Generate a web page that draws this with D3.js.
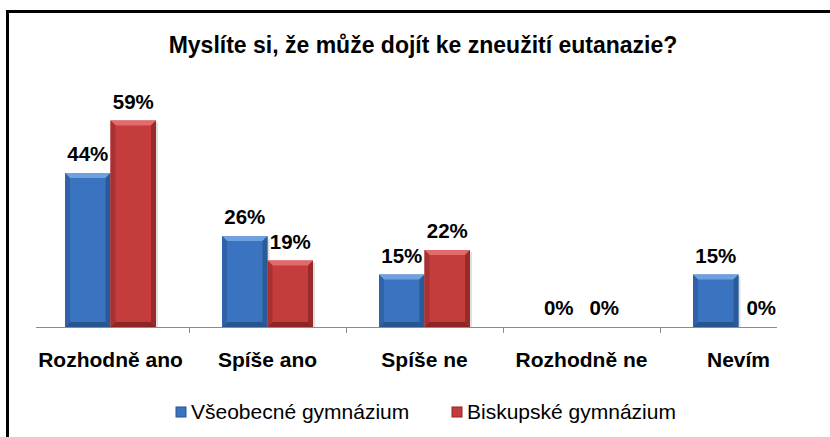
<!DOCTYPE html>
<html>
<head>
<meta charset="utf-8">
<script src="https://cdn.jsdelivr.net/npm/d3@7"></script>
<style>
  body { margin: 0; background: #fff; }
  text { font-family: "Liberation Sans", Arial, sans-serif; }
</style>
</head>
<body>
<svg id="chart" width="830" height="437"></svg>
<script>
var categories = ["Rozhodně ano", "Spíše ano", "Spíše ne", "Rozhodně ne", "Nevím"]
var seriesNames = ["Všeobecné gymnázium", "Biskupské gymnázium"]
var vseobecne = [44, 26, 15, 0, 15]
var biskupske = [59, 19, 22, 0, 0]
var title = "Myslíte si, že může dojít ke zneužití eutanazie?"

var colors = [
    { face: "#3a73bf", light: "#6fa0e0", dark: "#27558f", side: "#2f62a8" },
    { face: "#c53c3c", light: "#e26a6a", dark: "#8c2626", side: "#a83131" }
]

var svg = d3.select("#chart")

// frame
svg.append("rect")
    .attr("x", 7.5).attr("y", 11.5)
    .attr("width", 900).attr("height", 600)
    .attr("fill", "none")
    .attr("stroke", "#000")
    .attr("stroke-width", 3)

svg.append("text")
    .attr("x", 423).attr("y", 53)
    .attr("text-anchor", "middle")
    .attr("font-size", 23)
    .attr("font-weight", "bold")
    .text(title)

var x0 = d3.scaleBand().domain(categories).range([32, 817])
var x1 = d3.scaleBand().domain(d3.range(seriesNames.length)).range([-45.5, 45.5])
var y = d3.scaleLinear().domain([0, 60]).range([327, 117])

var data = [vseobecne, biskupske]

// axis line + ticks between categories
svg.append("line")
    .attr("x1", 36).attr("x2", 777)
    .attr("y1", y(0) + 0.5).attr("y2", y(0) + 0.5)
    .attr("stroke", "#8c8c8c").attr("stroke-width", 1.2)

svg.selectAll(".tick")
    .data(categories.slice(1))
    .enter().append("line")
    .attr("x1", d => x0(d) + 0.5).attr("x2", d => x0(d) + 0.5)
    .attr("y1", y(0)).attr("y2", y(0) + 6)
    .attr("stroke", "#8c8c8c")

function bevelBar(g, bx, by, w, h, c) {
    var b = Math.min(5, h / 2, w / 2)
    g.append("rect").attr("x", bx + w - 1).attr("y", by + 2).attr("width", 3).attr("height", h - 2)
        .attr("fill", "#000").attr("opacity", 0.12)
    g.append("rect").attr("x", bx).attr("y", by).attr("width", w).attr("height", h).attr("fill", c.face)
    if (h <= 0) return
    var x2 = bx + w, y2 = by + h
    g.append("polygon").attr("points", [[bx, by], [x2, by], [x2 - b, by + b], [bx + b, by + b]].join(" "))
        .attr("fill", c.light)
    g.append("polygon").attr("points", [[bx, by], [bx + b, by + b], [bx + b, y2 - b], [bx, y2]].join(" "))
        .attr("fill", c.side)
    g.append("polygon").attr("points", [[x2, by], [x2, y2], [x2 - b, y2 - b], [x2 - b, by + b]].join(" "))
        .attr("fill", c.dark).attr("opacity", 0.8)
    g.append("polygon").attr("points", [[bx, y2], [bx + b, y2 - b], [x2 - b, y2 - b], [x2, y2]].join(" "))
        .attr("fill", c.dark)
}

data.forEach(function(vals, s) {
    var g = svg.append("g")
    vals.forEach(function(v, i) {
        var bx = x0(categories[i]) + x0.bandwidth() / 2 + x1(s)
        if (v > 0) bevelBar(g, bx, y(v), x1.bandwidth(), y(0) - y(v), colors[s])
        g.append("text")
            .attr("x", bx + x1.bandwidth() / 2)
            .attr("y", y(v) - 12)
            .attr("text-anchor", "middle")
            .attr("font-size", 20.5)
            .attr("font-weight", "bold")
            .text(v + "%")
    })
})

svg.selectAll(".cat")
    .data(categories)
    .enter().append("text")
    .attr("x", d => x0(d) + x0.bandwidth() / 2)
    .attr("y", 367)
    .attr("text-anchor", "middle")
    .attr("font-size", 21)
    .attr("font-weight", "bold")
    .text(d => d)

// legend
var legendX = [176, 452]
var legend = svg.selectAll(".legend-item")
    .data(seriesNames)
    .enter().append("g")
    .attr("transform", (d, i) => "translate(" + legendX[i] + ", 407)")

legend.append("rect")
    .attr("width", 10).attr("height", 10)
    .attr("fill", (d, i) => colors[i].face)
    .attr("stroke", (d, i) => colors[i].dark).attr("stroke-width", 1)

legend.append("text")
    .attr("x", 15).attr("y", 12)
    .attr("font-size", 21)
    .text(d => d)
</script>
</body>
</html>
